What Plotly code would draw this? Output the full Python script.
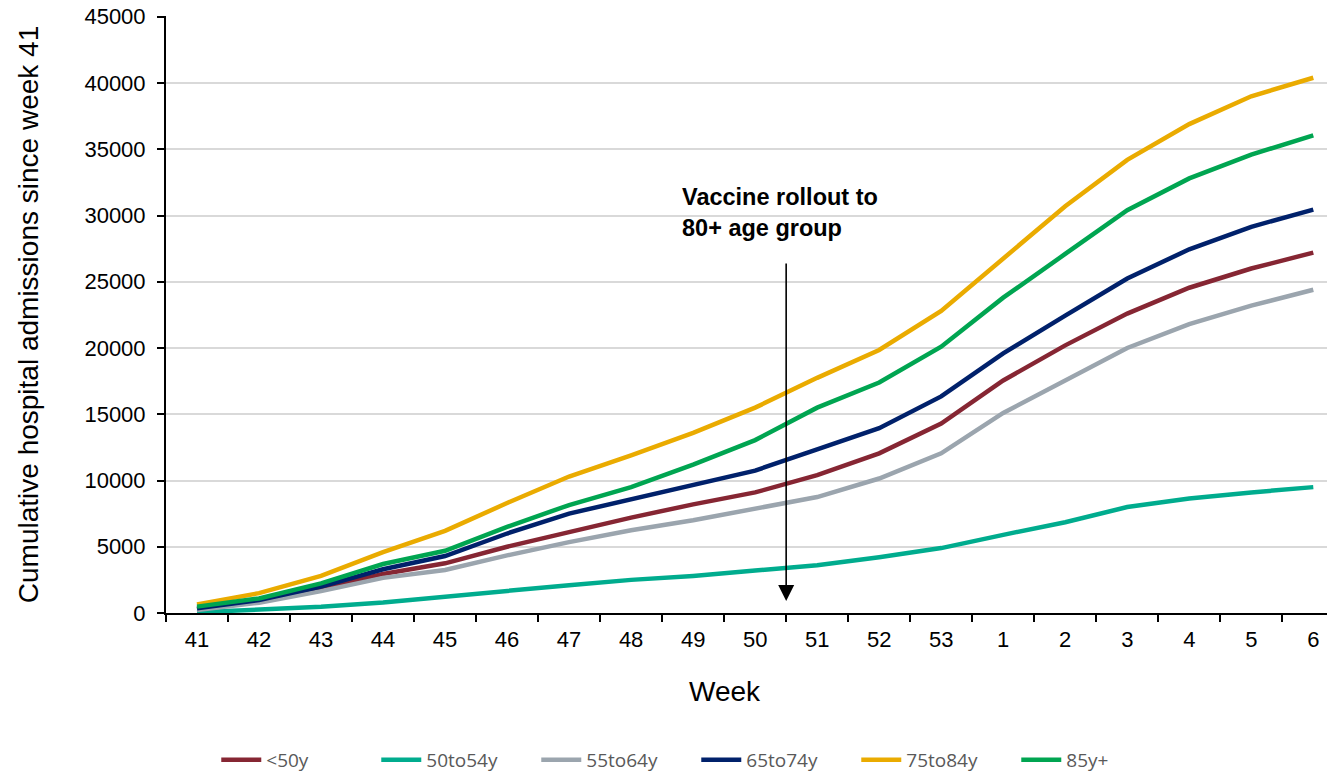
import plotly.graph_objects as go

# week labels (week 41 of 2020 to week 6 of 2021)
weeks = ["41", "42", "43", "44", "45", "46", "47", "48", "49", "50",
         "51", "52", "53", "1", "2", "3", "4", "5", "6"]

# cumulative hospital admissions since week 41, by age group
lt50 = [280, 850, 1850, 2950, 3750, 5000, 6100, 7200, 8200, 9100,
        10400, 12050, 14300, 17550, 20200, 22600, 24550, 26000, 27200]
a50to54 = [50, 280, 480, 800, 1250, 1700, 2100, 2500, 2800, 3200,
           3600, 4200, 4900, 5900, 6850, 8000, 8650, 9100, 9500]
a55to64 = [230, 780, 1650, 2650, 3250, 4350, 5350, 6250, 7000, 7850,
           8750, 10150, 12050, 15100, 17550, 20000, 21800, 23200, 24400]
a65to74 = [350, 980, 1990, 3300, 4300, 6000, 7500, 8600, 9700, 10750,
           12350, 13950, 16350, 19600, 22450, 25250, 27450, 29150, 30450]
a75to84 = [650, 1500, 2800, 4600, 6200, 8300, 10300, 11900, 13600, 15500,
           17750, 19850, 22800, 26700, 30700, 34200, 36900, 39000, 40400]
a85plus = [480, 1100, 2240, 3700, 4700, 6500, 8150, 9500, 11200, 13050,
           15500, 17400, 20100, 23800, 27100, 30400, 32800, 34600, 36050]

series = [
    ("<50y", lt50, "#862633"),
    ("50to54y", a50to54, "#00AC8E"),
    ("55to64y", a55to64, "#9BA5AE"),
    ("65to74y", a65to74, "#00216B"),
    ("75to84y", a75to84, "#EAAB00"),
    ("85y+", a85plus, "#00A551"),
]

fig = go.Figure()
for name, vals, col in series:
    fig.add_trace(go.Scatter(x=weeks, y=vals, name=name, mode="lines",
                             line=dict(color=col, width=4.5)))

# arrow marking the vaccine rollout (between weeks 50 and 51)
fig.add_annotation(x=9.5, y=900, ax=9.5, ay=26500, xref="x", yref="y",
                   axref="x", ayref="y", text="", showarrow=True,
                   arrowhead=2, arrowsize=2.0, arrowwidth=1.6, arrowcolor="black")
fig.add_annotation(x=7.79, y=30230, xref="x", yref="y", xanchor="left",
                   text="<b>Vaccine rollout to<br>80+ age group</b>", showarrow=False,
                   align="left", font=dict(size=23.5, color="black"))
# x axis title, sits a little left of centre in the original
fig.add_annotation(x=0.478, y=-0.132, xref="paper", yref="paper", yanchor="middle",
                   text="Week", showarrow=False, font=dict(size=28, color="black"))

# page body has an 8px margin, so the figure is shrunk and shifted to compensate
fig.update_layout(
    width=1327, height=766,
    margin=dict(l=158, r=0, t=8, b=161, autoexpand=False),
    plot_bgcolor="white", paper_bgcolor="white",
    font=dict(family="Liberation Sans, Arial", size=22, color="black"),
    showlegend=True,
    legend=dict(orientation="h", x=0.043, xanchor="left", y=-0.246, yanchor="middle",
                font=dict(family="Open Sans", size=19, color="#595959"),
                entrywidth=105, entrywidthmode="pixels",
                itemwidth=40, tracegroupgap=0),
)
fig.update_xaxes(
    type="category", range=[-0.5, 18.35], automargin=False,
    showline=True, linecolor="black", linewidth=2,
    ticks="outside", tickson="boundaries", ticklen=7, tickwidth=2, tickcolor="black",
    tickfont=dict(size=22), ticklabelstandoff=6,
    showgrid=False,
)
fig.update_yaxes(
    range=[0, 45060], tickvals=[0, 5000, 10000, 15000, 20000, 25000, 30000, 35000, 40000, 45000],
    tickformat="d", automargin=False, ticklabeloverflow="allow",
    showline=True, linecolor="black", linewidth=2,
    ticks="outside", ticklen=7, tickwidth=2, tickcolor="black",
    tickfont=dict(size=22), ticklabelstandoff=7,
    showgrid=True, gridcolor="#D9D9D9", gridwidth=1.5, zeroline=False,
    title=dict(text="Cumulative hospital admissions since week 41", font=dict(size=28), standoff=38),
)

fig.write_html("out.html")
